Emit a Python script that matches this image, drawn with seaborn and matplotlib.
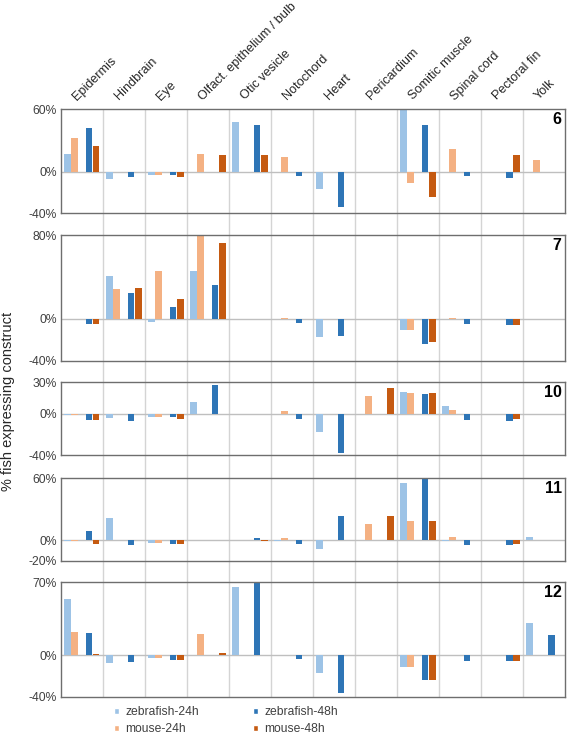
# plot.py
# Recreates the multi-panel bar chart of % fish expressing construct per organ

import numpy as np
import matplotlib.pyplot as plt
import seaborn as sns
import pandas as pd
from matplotlib.patches import Patch
from matplotlib.transforms import ScaledTranslation


# organs along the x axis
organs = ["Epidermis", "Hindbrain", "Eye", "Olfact. epithelium / bulb", "Otic vesicle",
          "Notochord", "Heart", "Pericardium", "Somitic muscle", "Spinal cord",
          "Pectoral fin", "Yolk"]

series = ["zebrafish-24h", "mouse-24h", "zebrafish-48h", "mouse-48h"]

panels = ["6", "7", "10", "11", "12"]
ylims = [(-40, 60), (-40, 80), (-40, 30), (-20, 60), (-40, 70)]

# values (% fish), one list per series per construct
z24_6 = [17, -7, -3, 0, 48, 0, -17, 0, 60, 0, 0, 0]
m24_6 = [32, 0, -3, 17, 0, 14, 0, 0, -11, 21.5, 0, 11.4]
z48_6 = [42, -5, -3, 0, 44.5, -4, -33.5, 0, 44.5, -4, -6, 0]
m48_6 = [25, 0, -5, 16, 15.5, 0, 0, 0, -24, 0, 16, 0]

z24_7 = [0, 41, -3, 46, 0, 0, -17, 0, -10.5, 0, 0, 0]
m24_7 = [-0.5, 28, 46, 80, 0, 0.5, 0, 0, -10.5, 0.3, 0, 0]
z48_7 = [-5, 25, 11, 32, -0.5, -4, -16, 0, -24.5, -5, -6, 0]
m48_7 = [-5, 29.5, 19, 72, -0.5, 0, 0, 0, -22.5, 0, -6, 0]

z24_10 = [-1, -4, -3, 11, 0, -0.5, -18, 0, 21, 7.7, 0, 0]
m24_10 = [-1, 0, -3, 0, 0, 2.5, 0, 16.5, 20, 3, 0, 0]
z48_10 = [-6, -7.5, -3.5, 27.5, -0.8, -4.8, -37.5, 0, 19.2, -6, -6.7, 0]
m48_10 = [-6, 0, -5.5, 0, -0.8, 0, 0, 24.5, 20, 0, -4.8, 0]

z24_11 = [-1, 21.6, -2.4, 0, 0, -0.5, -8.3, 0, 55.4, -0.5, 0, 2.8]
m24_11 = [-1, 0, -2.4, 0, 0, 2.4, 0, 16, 18.8, 2.8, 0, 0]
z48_11 = [8.7, -5, -4, 0, 2.4, -3.5, 23, 0, 60, -4.5, -4.8, 0]
m48_11 = [-4, 0, -4, 0, -1, 0, 0, 23.7, 18.8, 0, -3.5, 0]

z24_12 = [54.4, -7.4, -2.8, 0, 65.6, 0, -17.3, 0, -11.3, 0, 0, 31]
m24_12 = [22.4, 0, -2.8, 20, 0, 0, 0, 0, -11.3, 0, 0, 0]
z48_12 = [21.5, -6.7, -5, 0, 70, -4.2, -36.7, 0, -24.4, -5.7, -6, 19.6]
m48_12 = [1.2, 0, -5, 2.2, 0.5, 0, 0, 0, -24.4, 0, -6, 0]

panel_values = {
    "6": [z24_6, m24_6, z48_6, m48_6],
    "7": [z24_7, m24_7, z48_7, m48_7],
    "10": [z24_10, m24_10, z48_10, m48_10],
    "11": [z24_11, m24_11, z48_11, m48_11],
    "12": [z24_12, m24_12, z48_12, m48_12],
}

# long table for seaborn
rows = []
for p in panels:
    for s, vals in zip(series, panel_values[p]):
        for organ, v in zip(organs, vals):
            rows.append({"panel": p, "organ": organ, "series": s, "value": v})
df = pd.DataFrame(rows)

colours = {"zebrafish-24h": "#9dc3e6", "mouse-24h": "#f4b183",
           "zebrafish-48h": "#2e75b6", "mouse-48h": "#c55a11", " ": "white"}
# empty hue level in the middle gives the gap between the 24h and 48h pairs
hue_order = ["zebrafish-24h", "mouse-24h", " ", "zebrafish-48h", "mouse-48h"]

sns.set_theme(style="white")
plt.rcParams["font.family"] = ["Liberation Sans", "DejaVu Sans"]

fig = plt.figure(figsize=(5.67, 7.34), dpi=100)
W, H = 567, 734
left, right = 60.8, 565
boxes = [(109, 213.3), (235, 360.7), (382.3, 455.3), (478.3, 560.7), (582.3, 696.7)]

# vertical category separators running through all panels
bg = fig.add_axes([left / W, 1 - boxes[-1][1] / H, (right - left) / W,
                   (boxes[-1][1] - boxes[0][0]) / H], zorder=0)
bg.set_xlim(-0.5, len(organs) - 0.5)
bg.set_ylim(0, 1)
for b in np.arange(0.5, len(organs) - 0.5):
    bg.axvline(b, color="#d4d4d4", lw=1)
bg.axis("off")

for i, p in enumerate(panels):
    top, bot = boxes[i]
    ax = fig.add_axes([left / W, 1 - bot / H, (right - left) / W, (bot - top) / H], zorder=1)
    sns.barplot(data=df[df.panel == p], x="organ", y="value", hue="series",
                order=organs, hue_order=hue_order, palette=colours, saturation=1,
                errorbar=None, width=0.85, gap=0.05, linewidth=0,
                legend=False, ax=ax)
    ax.set_facecolor("none")
    ax.axhline(0, color="#bfbfbf", lw=1, zorder=0)
    lo, hi = ylims[i]
    ax.set_ylim(lo, hi)
    ax.set_yticks([lo, 0, hi])
    ax.set_yticklabels([f"{lo}%", "0%", f"{hi}%"])
    ax.set_xlabel("")
    ax.set_ylabel("")
    for sp in ax.spines.values():
        sp.set_color("#6e6e6e")
        sp.set_linewidth(1)
    ax.tick_params(axis="y", length=0, pad=3, labelsize=8.7, labelcolor="#404040")
    if i == 0:
        ax.tick_params(axis="x", bottom=False, labelbottom=False, top=False,
                       labeltop=True, length=0, pad=6.2)
        ax.set_xticks(range(len(organs)))
        ax.set_xticklabels(organs, rotation=45, ha="left", va="baseline",
                           rotation_mode="anchor", fontsize=9.1, color="#262626")
        for lab in ax.get_xticklabels():
            lab.set_transform(lab.get_transform() +
                              ScaledTranslation(-5 / 100, 0, fig.dpi_scale_trans))
    else:
        ax.tick_params(axis="x", bottom=False, labelbottom=False)
    ax.annotate(p, xy=(1, 1), xycoords="axes fraction", xytext=(-2.4, -2.2),
                textcoords="offset points", ha="right", va="top",
                fontsize=11.5, fontweight="bold", color="black")

fig.text(8.3 / W, 1 - 401 / H, "% fish expressing construct", rotation=90,
         ha="center", va="center", fontsize=10.5, color="#262626")

handles = [Patch(facecolor=colours[s], label=s) for s in series]
fig.legend(handles=handles, loc="center", bbox_to_anchor=(226 / W, 1 - 720.5 / H),
           ncol=2, frameon=False, fontsize=8.7, handlelength=0.4, handleheight=0.4,
           handletextpad=0.5, columnspacing=4.5, labelspacing=0.42,
           labelcolor="#404040", borderpad=0)

plt.savefig("out.png", dpi=100)
